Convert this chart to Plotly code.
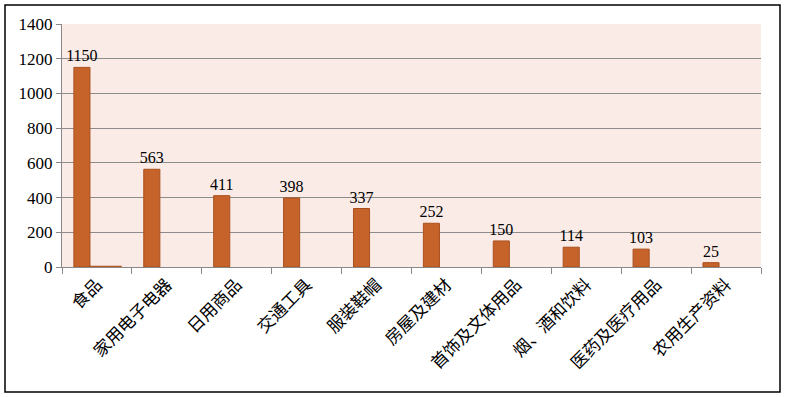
import plotly.graph_objects as go

categories = ["食品", "家用电子电器", "日用商品", "交通工具", "服装鞋帽", "房屋及建材",
              "首饰及文体用品", "烟、酒和饮料", "医药及医疗用品", "农用生产资料"]
values = [1150, 563, 411, 398, 337, 252, 150, 114, 103, 25]
extra_values = [6, None, None, None, None, None, None, None, None, None]
y_ticks = [0, 200, 400, 600, 800, 1000, 1200, 1400]

W, H = 785, 397
L, R, T, B = 62, 24, 24, 130
pw, ph = W - L - R, H - T - B

SERIF = "Liberation Serif"
bar_color = "#C5632A"
fig = go.Figure()
fig.add_trace(go.Bar(
    x=categories, y=values, width=0.23, offset=-0.33,
    marker=dict(color=bar_color, line=dict(color="#A9501F", width=1)),
    text=[str(v) for v in values], textposition="outside", cliponaxis=False,
    constraintext="none",
    textfont=dict(family=SERIF, size=16, color="#000"),
))
fig.add_trace(go.Bar(
    x=categories, y=extra_values, width=0.45, offset=-0.1,
    marker=dict(color=bar_color, line=dict(color="#A9501F", width=0.5)),
))

fig.update_layout(
    width=W, height=H, margin=dict(l=L, r=R, t=T, b=B),
    showlegend=False, barmode="overlay",
    plot_bgcolor="#FAEBE6", paper_bgcolor="white",
    font=dict(family=SERIF, color="#000"),
    xaxis=dict(type="category", tickson="boundaries", ticks="outside", ticklen=6,
               tickcolor="#888", showline=True, linecolor="#888", linewidth=1,
               tickangle=-45, showgrid=False,
               tickfont=dict(family="Noto Sans CJK SC", size=17, color="#000")),
    yaxis=dict(range=[0, 1400], tickvals=y_ticks, ticks="outside", ticklen=5,
               tickcolor="#888", showline=True, linecolor="#888", linewidth=1,
               gridcolor="#8C8C8C", gridwidth=1, zeroline=False,
               tickfont=dict(family=SERIF, size=17, color="#000")),
)
fig.add_shape(type="rect", xref="paper", yref="paper",
              x0=(5 - L) / pw, x1=(780 - L) / pw,
              y0=(H - B - 392) / ph, y1=(H - B - 5) / ph,
              line=dict(color="#000", width=1.5), layer="below")
fig.write_html("out.html")
